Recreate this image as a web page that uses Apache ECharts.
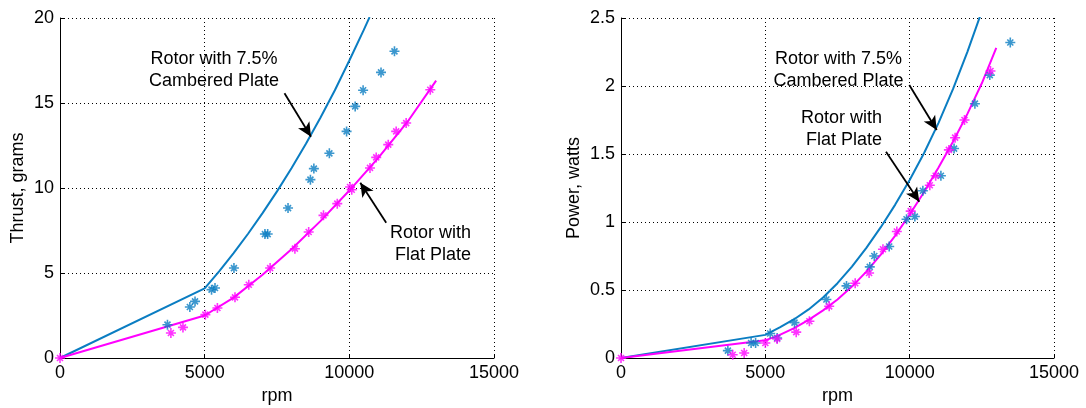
<!DOCTYPE html>
<html><head><meta charset="utf-8">
<script src="https://cdn.jsdelivr.net/npm/echarts@6/dist/echarts.min.js"></script>
<style>html,body{margin:0;padding:0;background:#fff}#c{width:1086px;height:408px}</style>
</head><body><div id="c"></div><script>
// ---- Axis ticks ----
const rpmTicks = [0, 5000, 10000, 15000];
const thrustTicks = [0, 5, 10, 15, 20];
const powerTicks = [0, 0.5, 1, 1.5, 2, 2.5];

// ---- Thrust chart: cambered plate (blue) model curve ----
const thrustCamberLineRpm = [0, 5000, 5500, 6000, 6500, 7000, 7500, 8000, 8500, 9000, 9500, 10000, 10500, 10700];
const thrustCamberLineVal = [0, 4.1, 5.1, 6.17, 7.31, 8.52, 9.8, 11.16, 12.6, 14.13, 15.75, 17.5, 19.3, 20.05];
// ---- Thrust chart: flat plate (magenta) model curve ----
const thrustFlatLineRpm = [0, 5000, 6000, 7000, 8000, 9000, 10000, 11000, 12000, 13000];
const thrustFlatLineVal = [0, 2.5, 3.55, 4.9, 6.4, 8.05, 9.85, 11.77, 13.87, 16.32];
// ---- Thrust chart: measured points ----
const thrustCamberPtsRpm = [3714, 4488, 4667, 5238, 5357, 6012, 7083, 7178, 7881, 8655, 8774, 9310, 9905, 10202, 10476, 11095, 11560];
const thrustCamberPtsVal = [1.96, 3.0, 3.33, 4.02, 4.12, 5.29, 7.29, 7.29, 8.82, 10.49, 11.14, 12.04, 13.33, 14.8, 15.75, 16.8, 18.04];
const thrustFlatPtsRpm = [0, 3833, 4250, 5024, 5440, 6048, 6524, 7262, 8119, 8595, 9107, 9583, 10024, 10083, 10714, 10929, 11345, 11619, 11964, 12798];
const thrustFlatPtsVal = [0, 1.47, 1.8, 2.55, 2.94, 3.57, 4.31, 5.29, 6.43, 7.41, 8.39, 9.08, 10.06, 9.9, 11.18, 11.8, 12.55, 13.33, 13.82, 15.78];

// ---- Power chart: model curves ----
const powerCamberLineRpm = [0, 5000, 5500, 6000, 6500, 7000, 7500, 8000, 8500, 9000, 9500, 10000, 10500, 11000, 11500, 12000, 12450];
const powerCamberLineVal = [0, 0.17, 0.225, 0.285, 0.357, 0.445, 0.55, 0.672, 0.81, 0.962, 1.128, 1.309, 1.507, 1.729, 1.977, 2.251, 2.52];
const powerFlatLineRpm = [0, 5000, 5500, 6000, 6500, 7000, 7500, 8000, 8500, 9000, 9500, 10000, 10500, 11000, 11500, 12000, 12500, 13000];
const powerFlatLineVal = [0, 0.13, 0.17, 0.22, 0.28, 0.35, 0.43, 0.525, 0.635, 0.76, 0.9, 1.055, 1.22, 1.4, 1.59, 1.795, 2.02, 2.28];
// ---- Power chart: measured points ----
const powerCamberPtsRpm = [3702, 4507, 4663, 5168, 5409, 6010, 7115, 7812, 8618, 8774, 9291, 9892, 10180, 10457, 11082, 11538, 12260, 12776, 13486];
const powerCamberPtsVal = [0.054, 0.11, 0.11, 0.18, 0.147, 0.26, 0.43, 0.53, 0.67, 0.75, 0.82, 1.02, 1.04, 1.23, 1.34, 1.54, 1.87, 2.08, 2.32];
const powerFlatPtsRpm = [0, 3870, 4267, 5000, 5409, 6070, 6526, 7212, 8113, 8594, 9075, 9555, 10036, 10697, 10901, 11358, 11574, 11899, 12800];
const powerFlatPtsVal = [0, 0.024, 0.037, 0.11, 0.14, 0.19, 0.27, 0.38, 0.55, 0.625, 0.80, 0.93, 1.08, 1.27, 1.34, 1.53, 1.62, 1.75, 2.11];

// ---- Annotations (data coordinates) ----
const labelCamber = 'Rotor with 7.5%\nCambered Plate';
const labelFlat = 'Rotor with\nFlat Plate';
const thrustCamberLabelAt = [5323, 16.96];
const thrustFlatLabelAt = [14205, 6.72];
const powerCamberLabelAt = [7535, 2.118];
const powerFlatLabelAt = [9042, 1.686];
const thrustCamberArrow = [[7759, 15.57], [8675, 13.02]];
const thrustFlatArrow = [[11274, 7.96], [10379, 10.31]];
const powerCamberArrow = [[9987, 2.007], [10937, 1.676]];
const powerFlatArrow = [[9180, 1.517], [10334, 1.149]];

const BLUE = '#0a7dc2', MAG = '#ff00ff';
const FONT = '"Liberation Sans", Arial, Helvetica, sans-serif';
const zip = (a, b) => a.map((v, i) => [v, b[i]]);
const STAR = 'path://M0,-5L0,5M-5,0L5,0M-3,-3L3,3M-3,3L3,-3';

function xAxisCfg(gi) {
  return {
    gridIndex: gi, type: 'value', min: rpmTicks[0], max: rpmTicks[rpmTicks.length - 1], interval: rpmTicks[1] - rpmTicks[0],
    name: 'rpm', nameLocation: 'middle', nameGap: 24,
    nameTextStyle: { fontSize: 18, color: '#000', fontFamily: FONT },
    axisLine: { lineStyle: { color: '#000', width: 1 } },
    axisTick: { inside: true, length: 4, lineStyle: { color: '#000' } },
    axisLabel: { fontSize: 18, color: '#000', fontFamily: FONT, margin: 6, formatter: v => String(v) },
    splitLine: { show: true, lineStyle: { color: '#000', type: [1, 3], width: 1 } }
  };
}
function yAxisCfg(gi, ticks, name, gap) {
  return {
    gridIndex: gi, type: 'value', min: ticks[0], max: ticks[ticks.length - 1], interval: ticks[1] - ticks[0],
    name: name, nameLocation: 'middle', nameGap: gap,
    nameTextStyle: { fontSize: 18, color: '#000', fontFamily: FONT },
    axisLine: { show: true, lineStyle: { color: '#000', width: 1 } },
    axisTick: { show: true, inside: true, length: 4, lineStyle: { color: '#000' } },
    axisLabel: { fontSize: 18, color: '#000', fontFamily: FONT, margin: 6, formatter: v => String(v) },
    splitLine: { show: true, lineStyle: { color: '#000', type: [1, 3], width: 1 } }
  };
}
function lineSeries(gi, rpm, val, color, arrows) {
  const s = {
    type: 'line', xAxisIndex: gi, yAxisIndex: gi, data: zip(rpm, val), showSymbol: false, symbol: 'none',
    lineStyle: { color: color, width: 2 }, itemStyle: { color: color }, clip: true, silent: true, z: 2
  };
  if (arrows) {
    s.markLine = {
      silent: true, symbol: ['none', 'arrow'], symbolSize: [10, 14], animation: false,
      label: { show: false }, lineStyle: { color: '#000', width: 1.8, type: 'solid' },
      emphasis: { disabled: true },
      data: arrows.map(a => [{ coord: a[0] }, { coord: a[1] }])
    };
  }
  return s;
}
function starSeries(gi, rpm, val, color) {
  return {
    type: 'scatter', xAxisIndex: gi, yAxisIndex: gi, data: zip(rpm, val), symbol: STAR, symbolSize: 10,
    itemStyle: { color: 'transparent', borderColor: color, borderWidth: 1.6 }, silent: true, z: 3
  };
}

const chart = echarts.init(document.getElementById('c'), null, { renderer: 'canvas' });
chart.setOption({
  animation: false,
  backgroundColor: '#fff',
  grid: [
    { left: 60, top: 18, width: 434, height: 340, outerBoundsMode: 'none', containLabel: false },
    { left: 621, top: 18, width: 433, height: 340, outerBoundsMode: 'none', containLabel: false }
  ],
  xAxis: [xAxisCfg(0), xAxisCfg(1)],
  yAxis: [yAxisCfg(0, thrustTicks, 'Thrust, grams', 33), yAxisCfg(1, powerTicks, 'Power, watts', 38)],
  series: [
    lineSeries(0, thrustCamberLineRpm, thrustCamberLineVal, BLUE, [thrustCamberArrow, thrustFlatArrow]),
    lineSeries(0, thrustFlatLineRpm, thrustFlatLineVal, MAG),
    starSeries(0, thrustCamberPtsRpm, thrustCamberPtsVal, BLUE),
    starSeries(0, thrustFlatPtsRpm, thrustFlatPtsVal, MAG),
    lineSeries(1, powerCamberLineRpm, powerCamberLineVal, BLUE, [powerCamberArrow, powerFlatArrow]),
    lineSeries(1, powerFlatLineRpm, powerFlatLineVal, MAG),
    starSeries(1, powerCamberPtsRpm, powerCamberPtsVal, BLUE),
    starSeries(1, powerFlatPtsRpm, powerFlatPtsVal, MAG)
  ]
});

function txt(gi, at, text, align) {
  const p = chart.convertToPixel({ gridIndex: gi }, at);
  return {
    type: 'text', x: p[0], y: p[1], z: 10, silent: true,
    style: { text: text, fill: '#000', fontSize: 18, fontFamily: FONT, align: align, verticalAlign: 'middle', lineHeight: 22 }
  };
}
chart.setOption({
  graphic: [
    txt(0, thrustCamberLabelAt, labelCamber, 'center'),
    txt(0, thrustFlatLabelAt, labelFlat, 'right'),
    txt(1, powerCamberLabelAt, labelCamber, 'center'),
    txt(1, powerFlatLabelAt, labelFlat, 'right')
  ]
});
</script></body></html>
